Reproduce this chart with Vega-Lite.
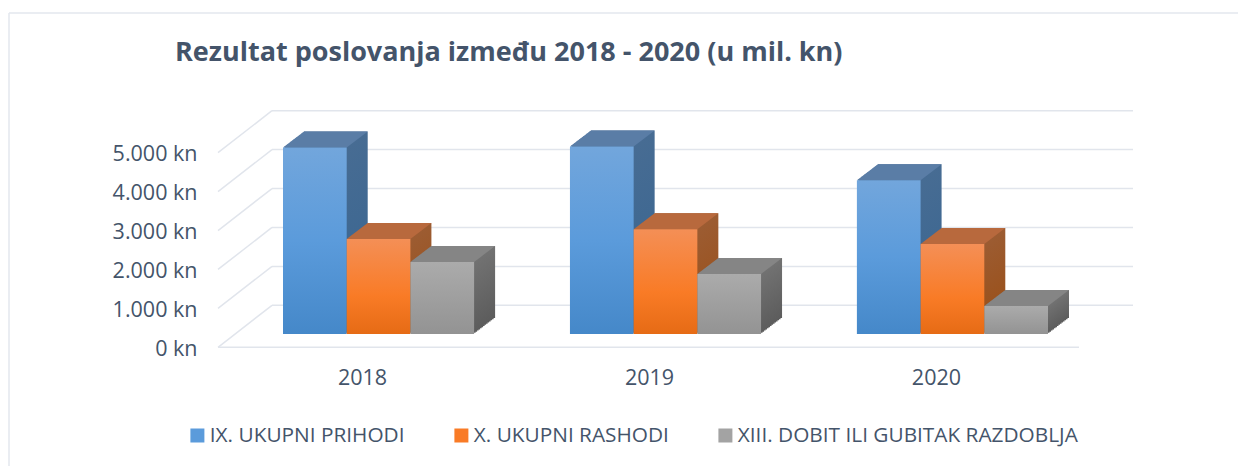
{"$schema":"https://vega.github.io/schema/vega-lite/v6.json","autosize":"none","width":861,"height":194.6,"padding":{"left":272,"top":110.7,"right":105,"bottom":160.7},"background":"white",
"title":{"text":"Rezultat poslovanja između 2018 - 2020 (u mil. kn)","anchor":"start","frame":"group","dx":-97,"offset":-76,"font":"Open Sans","fontSize":27,"fontWeight":"bold","color":"#44546a","baseline":"alphabetic"},
"datasets":{"bars":[
{"godina":"2018","serija":"IX. UKUPNI PRIHODI","vrijednost":4790},{"godina":"2018","serija":"X. UKUPNI RASHODI","vrijednost":2440},{"godina":"2018","serija":"XIII. DOBIT ILI GUBITAK RAZDOBLJA","vrijednost":1850},
{"godina":"2019","serija":"IX. UKUPNI PRIHODI","vrijednost":4820},{"godina":"2019","serija":"X. UKUPNI RASHODI","vrijednost":2690},{"godina":"2019","serija":"XIII. DOBIT ILI GUBITAK RAZDOBLJA","vrijednost":1540},
{"godina":"2020","serija":"IX. UKUPNI PRIHODI","vrijednost":3950},{"godina":"2020","serija":"X. UKUPNI RASHODI","vrijednost":2310},{"godina":"2020","serija":"XIII. DOBIT ILI GUBITAK RAZDOBLJA","vrijednost":720}],
"ticks":[{"vrijednost":0},{"vrijednost":1000},{"vrijednost":2000},{"vrijednost":3000},{"vrijednost":4000},{"vrijednost":5000}]},
"data":{"name":"bars"},
"encoding":{
"x":{"field":"godina","type":"nominal","scale":{"range":[11,776],"paddingInner":0.334,"paddingOuter":0},"axis":{"title":null,"domain":false,"ticks":false,"grid":false,"labelAngle":0,"labelOffset":-16,"labelPadding":73,"labelFont":"Open Sans","labelFontSize":21.5,"labelColor":"#44546a","labelBaseline":"middle"}},
"y":{"field":"vrijednost","type":"quantitative","stack":null,"scale":{"domain":[0,5000],"nice":false},"axis":{"title":null,"domain":false,"ticks":false,"grid":false,"values":[0,1000,2000,3000,4000,5000],"labelPadding":75,"labelOffset":44,"labelFont":"Open Sans","labelFontSize":21.5,"labelColor":"#44546a","labelExpr":"replace(format(datum.value,','),',','.') + ' kn'"}}
},
"layer":[
{"data":{"name":"ticks"},"mark":{"type":"rule","color":"#e1e5ec","strokeWidth":1.5},"encoding":{"x":{"value":0},"x2":{"value":861}}},
{"data":{"name":"ticks"},"mark":{"type":"rule","color":"#e1e5ec","strokeWidth":1.5,"xOffset":-54,"x2Offset":0,"yOffset":42,"y2Offset":0},"encoding":{"x":{"value":0},"x2":{"value":0},"y2":{"field":"vrijednost"}}},
{"data":{"values":[{"vrijednost":0}]},"mark":{"type":"rule","color":"#e1e5ec","strokeWidth":1.5,"xOffset":-54,"x2Offset":0,"yOffset":42,"y2Offset":42},"encoding":{"x":{"value":0},"x2":{"value":807},"y2":{"field":"vrijednost"}}},
{"data":{"values":[{"vrijednost":0}]},"mark":{"type":"rule","color":"#e3e7ee","strokeWidth":1.5},"encoding":{"x":{"value":-263},"x2":{"value":966},"y":{"value":-97.7}}},
{"data":{"values":[{"vrijednost":0}]},"mark":{"type":"rule","color":"#e3e7ee","strokeWidth":1.5},"encoding":{"x":{"value":-263},"y":{"value":-97.7},"y2":{"value":355.3}}},
{"mark":{"type":"bar","opacity":0,"width":63.7,"yOffset":28.7,"y2Offset":28.7},"encoding":{"y2":{"datum":0},
"color":{"field":"serija","type":"nominal","scale":{"domain":["IX. UKUPNI PRIHODI","X. UKUPNI RASHODI","XIII. DOBIT ILI GUBITAK RAZDOBLJA"],"range":["#5b9bdb","#f97b26","#a3a3a3"]},"legend":{"title":null,"orient":"none","legendX":-85,"legendY":314,"direction":"horizontal","columns":3,"columnPadding":46,"symbolType":"square","symbolSize":196,"symbolOpacity":1,"symbolStrokeWidth":0,"labelFont":"Open Sans","labelFontSize":20.8,"labelColor":"#44546a","labelLimit":600,"labelOffset":2,"padding":0,
"encode":{"symbols":{"update":{"fill":{"signal":"datum.value === 'IX. UKUPNI PRIHODI' ? {gradient:'linear',x1:0,y1:0,x2:0,y2:1,stops:[{offset:0,color:'#6ea6de'},{offset:1,color:'#4588c9'}]} : datum.value === 'X. UKUPNI RASHODI' ? {gradient:'linear',x1:0,y1:0,x2:0,y2:1,stops:[{offset:0,color:'#f48f56'},{offset:1,color:'#e66b15'}]} : {gradient:'linear',x1:0,y1:0,x2:0,y2:1,stops:[{offset:0,color:'#ababab'},{offset:1,color:'#939393'}]}"}}}}}}}},
{"transform":[{"filter":"datum.serija === 'IX. UKUPNI PRIHODI'"}],
"encoding":{"y2":{"datum":0}},
"layer":[
{"mark":{"type":"bar","width":63.7,"fill":{"gradient":"linear","x1":0,"y1":0,"x2":0,"y2":1,"stops":[{"offset":0,"color":"#476c93"},{"offset":1,"color":"#386591"}]},"xOffset":-42.7,"yOffset":12.7,"y2Offset":12.7}},
{"mark":{"type":"bar","width":63.7,"fill":{"gradient":"linear","x1":0,"y1":0,"x2":0,"y2":1,"stops":[{"offset":0,"color":"#476c93"},{"offset":1,"color":"#386591"}]},"xOffset":-44.2,"yOffset":13.84,"y2Offset":13.84}},
{"mark":{"type":"bar","width":63.7,"fill":{"gradient":"linear","x1":0,"y1":0,"x2":0,"y2":1,"stops":[{"offset":0,"color":"#476c93"},{"offset":1,"color":"#386591"}]},"xOffset":-45.7,"yOffset":14.99,"y2Offset":14.99}},
{"mark":{"type":"bar","width":63.7,"fill":{"gradient":"linear","x1":0,"y1":0,"x2":0,"y2":1,"stops":[{"offset":0,"color":"#476c93"},{"offset":1,"color":"#386591"}]},"xOffset":-47.2,"yOffset":16.13,"y2Offset":16.13}},
{"mark":{"type":"bar","width":63.7,"fill":{"gradient":"linear","x1":0,"y1":0,"x2":0,"y2":1,"stops":[{"offset":0,"color":"#476c93"},{"offset":1,"color":"#386591"}]},"xOffset":-48.7,"yOffset":17.27,"y2Offset":17.27}},
{"mark":{"type":"bar","width":63.7,"fill":{"gradient":"linear","x1":0,"y1":0,"x2":0,"y2":1,"stops":[{"offset":0,"color":"#476c93"},{"offset":1,"color":"#386591"}]},"xOffset":-50.2,"yOffset":18.41,"y2Offset":18.41}},
{"mark":{"type":"bar","width":63.7,"fill":{"gradient":"linear","x1":0,"y1":0,"x2":0,"y2":1,"stops":[{"offset":0,"color":"#476c93"},{"offset":1,"color":"#386591"}]},"xOffset":-51.7,"yOffset":19.56,"y2Offset":19.56}},
{"mark":{"type":"bar","width":63.7,"fill":{"gradient":"linear","x1":0,"y1":0,"x2":0,"y2":1,"stops":[{"offset":0,"color":"#476c93"},{"offset":1,"color":"#386591"}]},"xOffset":-53.2,"yOffset":20.7,"y2Offset":20.7}},
{"mark":{"type":"bar","width":63.7,"fill":{"gradient":"linear","x1":0,"y1":0,"x2":0,"y2":1,"stops":[{"offset":0,"color":"#476c93"},{"offset":1,"color":"#386591"}]},"xOffset":-54.7,"yOffset":21.84,"y2Offset":21.84}},
{"mark":{"type":"bar","width":63.7,"fill":{"gradient":"linear","x1":0,"y1":0,"x2":0,"y2":1,"stops":[{"offset":0,"color":"#476c93"},{"offset":1,"color":"#386591"}]},"xOffset":-56.2,"yOffset":22.99,"y2Offset":22.99}},
{"mark":{"type":"bar","width":63.7,"fill":{"gradient":"linear","x1":0,"y1":0,"x2":0,"y2":1,"stops":[{"offset":0,"color":"#476c93"},{"offset":1,"color":"#386591"}]},"xOffset":-57.7,"yOffset":24.13,"y2Offset":24.13}},
{"mark":{"type":"bar","width":63.7,"fill":{"gradient":"linear","x1":0,"y1":0,"x2":0,"y2":1,"stops":[{"offset":0,"color":"#476c93"},{"offset":1,"color":"#386591"}]},"xOffset":-59.2,"yOffset":25.27,"y2Offset":25.27}},
{"mark":{"type":"bar","width":63.7,"fill":{"gradient":"linear","x1":0,"y1":0,"x2":0,"y2":1,"stops":[{"offset":0,"color":"#476c93"},{"offset":1,"color":"#386591"}]},"xOffset":-60.7,"yOffset":26.41,"y2Offset":26.41}},
{"mark":{"type":"bar","width":63.7,"fill":{"gradient":"linear","x1":0,"y1":0,"x2":0,"y2":1,"stops":[{"offset":0,"color":"#476c93"},{"offset":1,"color":"#386591"}]},"xOffset":-62.2,"yOffset":27.56,"y2Offset":27.56}},
{"mark":{"type":"point","filled":true,"opacity":1,"strokeWidth":0,"size":4,"fill":"#5a7da6","xOffset":-63.7,"yOffset":28.7,"shape":"M-31.85,0L31.85,0L52.85,-16L-10.85,-16Z"},"encoding":{"y2":null}},
{"mark":{"type":"bar","width":63.7,"fill":{"gradient":"linear","x1":0,"y1":0,"x2":0,"y2":1,"stops":[{"offset":0,"color":"#72a6dc"},{"offset":0.5,"color":"#5b9bdb"},{"offset":1,"color":"#4588c9"}]},"xOffset":-63.7,"yOffset":28.7,"y2Offset":28.7}}
]},
{"transform":[{"filter":"datum.serija === 'X. UKUPNI RASHODI'"}],
"encoding":{"y2":{"datum":0}},
"layer":[
{"mark":{"type":"bar","width":63.7,"fill":{"gradient":"linear","x1":0,"y1":0,"x2":0,"y2":1,"stops":[{"offset":0,"color":"#9c5c32"},{"offset":1,"color":"#9a4f17"}]},"xOffset":21,"yOffset":12.7,"y2Offset":12.7}},
{"mark":{"type":"bar","width":63.7,"fill":{"gradient":"linear","x1":0,"y1":0,"x2":0,"y2":1,"stops":[{"offset":0,"color":"#9c5c32"},{"offset":1,"color":"#9a4f17"}]},"xOffset":19.5,"yOffset":13.84,"y2Offset":13.84}},
{"mark":{"type":"bar","width":63.7,"fill":{"gradient":"linear","x1":0,"y1":0,"x2":0,"y2":1,"stops":[{"offset":0,"color":"#9c5c32"},{"offset":1,"color":"#9a4f17"}]},"xOffset":18,"yOffset":14.99,"y2Offset":14.99}},
{"mark":{"type":"bar","width":63.7,"fill":{"gradient":"linear","x1":0,"y1":0,"x2":0,"y2":1,"stops":[{"offset":0,"color":"#9c5c32"},{"offset":1,"color":"#9a4f17"}]},"xOffset":16.5,"yOffset":16.13,"y2Offset":16.13}},
{"mark":{"type":"bar","width":63.7,"fill":{"gradient":"linear","x1":0,"y1":0,"x2":0,"y2":1,"stops":[{"offset":0,"color":"#9c5c32"},{"offset":1,"color":"#9a4f17"}]},"xOffset":15,"yOffset":17.27,"y2Offset":17.27}},
{"mark":{"type":"bar","width":63.7,"fill":{"gradient":"linear","x1":0,"y1":0,"x2":0,"y2":1,"stops":[{"offset":0,"color":"#9c5c32"},{"offset":1,"color":"#9a4f17"}]},"xOffset":13.5,"yOffset":18.41,"y2Offset":18.41}},
{"mark":{"type":"bar","width":63.7,"fill":{"gradient":"linear","x1":0,"y1":0,"x2":0,"y2":1,"stops":[{"offset":0,"color":"#9c5c32"},{"offset":1,"color":"#9a4f17"}]},"xOffset":12,"yOffset":19.56,"y2Offset":19.56}},
{"mark":{"type":"bar","width":63.7,"fill":{"gradient":"linear","x1":0,"y1":0,"x2":0,"y2":1,"stops":[{"offset":0,"color":"#9c5c32"},{"offset":1,"color":"#9a4f17"}]},"xOffset":10.5,"yOffset":20.7,"y2Offset":20.7}},
{"mark":{"type":"bar","width":63.7,"fill":{"gradient":"linear","x1":0,"y1":0,"x2":0,"y2":1,"stops":[{"offset":0,"color":"#9c5c32"},{"offset":1,"color":"#9a4f17"}]},"xOffset":9,"yOffset":21.84,"y2Offset":21.84}},
{"mark":{"type":"bar","width":63.7,"fill":{"gradient":"linear","x1":0,"y1":0,"x2":0,"y2":1,"stops":[{"offset":0,"color":"#9c5c32"},{"offset":1,"color":"#9a4f17"}]},"xOffset":7.5,"yOffset":22.99,"y2Offset":22.99}},
{"mark":{"type":"bar","width":63.7,"fill":{"gradient":"linear","x1":0,"y1":0,"x2":0,"y2":1,"stops":[{"offset":0,"color":"#9c5c32"},{"offset":1,"color":"#9a4f17"}]},"xOffset":6,"yOffset":24.13,"y2Offset":24.13}},
{"mark":{"type":"bar","width":63.7,"fill":{"gradient":"linear","x1":0,"y1":0,"x2":0,"y2":1,"stops":[{"offset":0,"color":"#9c5c32"},{"offset":1,"color":"#9a4f17"}]},"xOffset":4.5,"yOffset":25.27,"y2Offset":25.27}},
{"mark":{"type":"bar","width":63.7,"fill":{"gradient":"linear","x1":0,"y1":0,"x2":0,"y2":1,"stops":[{"offset":0,"color":"#9c5c32"},{"offset":1,"color":"#9a4f17"}]},"xOffset":3,"yOffset":26.41,"y2Offset":26.41}},
{"mark":{"type":"bar","width":63.7,"fill":{"gradient":"linear","x1":0,"y1":0,"x2":0,"y2":1,"stops":[{"offset":0,"color":"#9c5c32"},{"offset":1,"color":"#9a4f17"}]},"xOffset":1.5,"yOffset":27.56,"y2Offset":27.56}},
{"mark":{"type":"point","filled":true,"opacity":1,"strokeWidth":0,"size":4,"fill":"#b8693d","yOffset":28.7,"shape":"M-31.85,0L31.85,0L52.85,-16L-10.85,-16Z"},"encoding":{"y2":null}},
{"mark":{"type":"bar","width":63.7,"fill":{"gradient":"linear","x1":0,"y1":0,"x2":0,"y2":1,"stops":[{"offset":0,"color":"#f48f56"},{"offset":0.6,"color":"#f97b26"},{"offset":1,"color":"#e66b15"}]},"yOffset":28.7,"y2Offset":28.7}}
]},
{"transform":[{"filter":"datum.serija === 'XIII. DOBIT ILI GUBITAK RAZDOBLJA'"}],
"encoding":{"y2":{"datum":0}},
"layer":[
{"mark":{"type":"bar","width":63.7,"fill":{"gradient":"linear","x1":0,"y1":0,"x2":0,"y2":1,"stops":[{"offset":0,"color":"#727272"},{"offset":1,"color":"#5c5c5c"}]},"xOffset":84.7,"yOffset":12.7,"y2Offset":12.7}},
{"mark":{"type":"bar","width":63.7,"fill":{"gradient":"linear","x1":0,"y1":0,"x2":0,"y2":1,"stops":[{"offset":0,"color":"#727272"},{"offset":1,"color":"#5c5c5c"}]},"xOffset":83.2,"yOffset":13.84,"y2Offset":13.84}},
{"mark":{"type":"bar","width":63.7,"fill":{"gradient":"linear","x1":0,"y1":0,"x2":0,"y2":1,"stops":[{"offset":0,"color":"#727272"},{"offset":1,"color":"#5c5c5c"}]},"xOffset":81.7,"yOffset":14.99,"y2Offset":14.99}},
{"mark":{"type":"bar","width":63.7,"fill":{"gradient":"linear","x1":0,"y1":0,"x2":0,"y2":1,"stops":[{"offset":0,"color":"#727272"},{"offset":1,"color":"#5c5c5c"}]},"xOffset":80.2,"yOffset":16.13,"y2Offset":16.13}},
{"mark":{"type":"bar","width":63.7,"fill":{"gradient":"linear","x1":0,"y1":0,"x2":0,"y2":1,"stops":[{"offset":0,"color":"#727272"},{"offset":1,"color":"#5c5c5c"}]},"xOffset":78.7,"yOffset":17.27,"y2Offset":17.27}},
{"mark":{"type":"bar","width":63.7,"fill":{"gradient":"linear","x1":0,"y1":0,"x2":0,"y2":1,"stops":[{"offset":0,"color":"#727272"},{"offset":1,"color":"#5c5c5c"}]},"xOffset":77.2,"yOffset":18.41,"y2Offset":18.41}},
{"mark":{"type":"bar","width":63.7,"fill":{"gradient":"linear","x1":0,"y1":0,"x2":0,"y2":1,"stops":[{"offset":0,"color":"#727272"},{"offset":1,"color":"#5c5c5c"}]},"xOffset":75.7,"yOffset":19.56,"y2Offset":19.56}},
{"mark":{"type":"bar","width":63.7,"fill":{"gradient":"linear","x1":0,"y1":0,"x2":0,"y2":1,"stops":[{"offset":0,"color":"#727272"},{"offset":1,"color":"#5c5c5c"}]},"xOffset":74.2,"yOffset":20.7,"y2Offset":20.7}},
{"mark":{"type":"bar","width":63.7,"fill":{"gradient":"linear","x1":0,"y1":0,"x2":0,"y2":1,"stops":[{"offset":0,"color":"#727272"},{"offset":1,"color":"#5c5c5c"}]},"xOffset":72.7,"yOffset":21.84,"y2Offset":21.84}},
{"mark":{"type":"bar","width":63.7,"fill":{"gradient":"linear","x1":0,"y1":0,"x2":0,"y2":1,"stops":[{"offset":0,"color":"#727272"},{"offset":1,"color":"#5c5c5c"}]},"xOffset":71.2,"yOffset":22.99,"y2Offset":22.99}},
{"mark":{"type":"bar","width":63.7,"fill":{"gradient":"linear","x1":0,"y1":0,"x2":0,"y2":1,"stops":[{"offset":0,"color":"#727272"},{"offset":1,"color":"#5c5c5c"}]},"xOffset":69.7,"yOffset":24.13,"y2Offset":24.13}},
{"mark":{"type":"bar","width":63.7,"fill":{"gradient":"linear","x1":0,"y1":0,"x2":0,"y2":1,"stops":[{"offset":0,"color":"#727272"},{"offset":1,"color":"#5c5c5c"}]},"xOffset":68.2,"yOffset":25.27,"y2Offset":25.27}},
{"mark":{"type":"bar","width":63.7,"fill":{"gradient":"linear","x1":0,"y1":0,"x2":0,"y2":1,"stops":[{"offset":0,"color":"#727272"},{"offset":1,"color":"#5c5c5c"}]},"xOffset":66.7,"yOffset":26.41,"y2Offset":26.41}},
{"mark":{"type":"bar","width":63.7,"fill":{"gradient":"linear","x1":0,"y1":0,"x2":0,"y2":1,"stops":[{"offset":0,"color":"#727272"},{"offset":1,"color":"#5c5c5c"}]},"xOffset":65.2,"yOffset":27.56,"y2Offset":27.56}},
{"mark":{"type":"point","filled":true,"opacity":1,"strokeWidth":0,"size":4,"fill":"#858585","xOffset":63.7,"yOffset":28.7,"shape":"M-31.85,0L31.85,0L52.85,-16L-10.85,-16Z"},"encoding":{"y2":null}},
{"mark":{"type":"bar","width":63.7,"fill":{"gradient":"linear","x1":0,"y1":0,"x2":0,"y2":1,"stops":[{"offset":0,"color":"#ababab"},{"offset":1,"color":"#939393"}]},"xOffset":63.7,"yOffset":28.7,"y2Offset":28.7}}
]}
],
"config":{"view":{"stroke":null}}}
